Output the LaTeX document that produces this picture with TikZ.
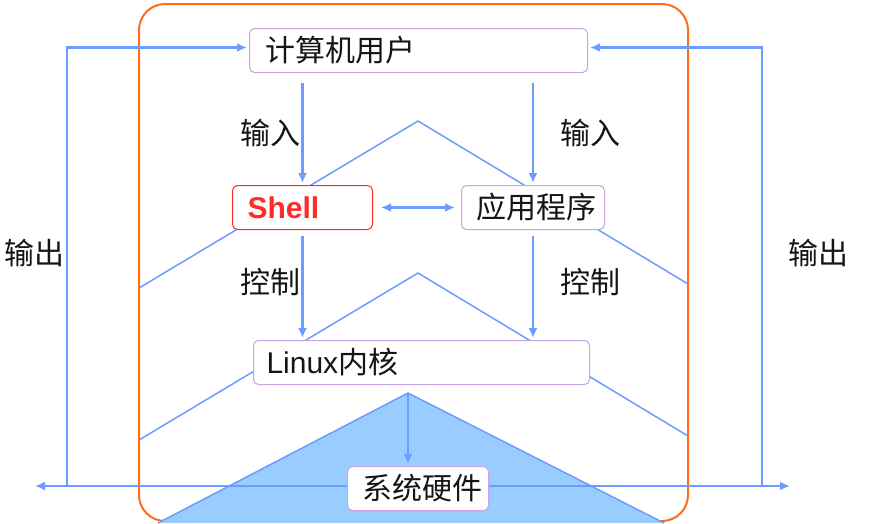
\documentclass[tikz,border=0pt]{standalone}
\usepackage{fontspec}
\setmainfont{Noto Sans CJK SC}
\newfontfamily\latinfont{Liberation Sans}
\usetikzlibrary{arrows.meta,calc}
\definecolor{lblue}{HTML}{6C9CFF}
\definecolor{fblue}{HTML}{99CCFF}
\definecolor{orng}{HTML}{FF6B17}
\definecolor{purp}{HTML}{C6A4E6}
\definecolor{redc}{HTML}{FF2A2A}
\definecolor{txt}{HTML}{151515}
\begin{document}
\begin{tikzpicture}[x=1pt,y=-1pt,
  every node/.style={text=txt},
  box/.style={draw=purp, line width=1pt, rounded corners=5pt, fill=white, anchor=north west,
    minimum height=44pt, inner xsep=15pt, inner ysep=0pt, align=left,
    font=\fontsize{30}{33}\selectfont},
  lbl/.style={font=\fontsize{30}{33}\selectfont},
  arr/.style={draw=lblue, line width=2.2pt, -{Latex[length=10pt,width=9pt]}},
  darr/.style={draw=lblue, line width=2.2pt, {Latex[length=10pt,width=9pt]}-{Latex[length=10pt,width=9pt]}},
  chev/.style={draw=lblue, line width=1.5pt},
]
\useasboundingbox (0,0) rectangle (874,523);
% outer frame
\draw[orng, line width=2pt, rounded corners=26pt] (139,4) rectangle (688,521);
% chevrons
\draw[chev] (139,288) -- (418,121) -- (688,284);
\draw[chev] (139,440) -- (418,273) -- (688,436);
% hardware triangle
\coordinate (apex) at (408,393);
\fill[fblue] (158,523) -- (apex) -- (664,523) -- cycle;
\draw[chev] (158,523) -- (apex) -- (664,523);
% horizontal output line
\coordinate (hl) at (35,486);
\coordinate (hr) at (790,486);
\coordinate (ol) at (67,486);
\coordinate (or) at (762,486);
\draw[darr] (hl) -- (hr);
% boxes
\node[box, minimum width=338pt, text width=306pt, inner xsep=16pt] (user) at (249,28) {计算机用户};
\node[box, draw=redc, minimum width=140pt, text width=110pt, font=\fontsize{30}{33}\selectfont\latinfont\bfseries, text=redc] (shell) at (232,185) {Shell};
\node[box, minimum width=143pt, text width=113pt] (app) at (461,185) {应用程序};
\node[box, minimum width=336pt, text width=310pt, inner xsep=13pt] (linux) at (253,340) {{\latinfont Linux}内核};
\node[box, minimum width=141pt, text width=111pt] (hw) at (347,466) {系统硬件};
% labels
\node[lbl] (in1) at (270,133) {输入};
\node[lbl] (in2) at (590,133) {输入};
\node[lbl] (ct1) at (270,282) {控制};
\node[lbl] (ct2) at (590,282) {控制};
\node[lbl] (out1) at (35,253) {输出};
\node[lbl] (out2) at (818,253) {输出};
% arrows
\draw[arr] ($(user.south -| shell.north)+(0pt,-10pt)$) -- ($(shell.north)+(0pt,2pt)$);
\draw[arr] ($(user.south -| app.north)+(0pt,-10pt)$) -- ($(app.north)+(0pt,2pt)$);
\draw[darr, shorten <=8pt, shorten >=6pt] (shell.east) -- (app.west);
\draw[arr] ($(shell.south)+(0pt,-6pt)$) -- ($(shell.south |- linux.north)+(0pt,2pt)$);
\draw[arr] ($(app.south)+(0pt,-6pt)$) -- ($(app.south |- linux.north)+(0pt,2pt)$);
\draw[arr] (apex) -- ($(apex |- hw.north)+(0pt,2pt)$);
\draw[arr] (ol) |- ($(user.west)+(-2pt,3pt)$);
\draw[arr] (or) |- ($(user.east)+(2pt,3pt)$);
\end{tikzpicture}
\end{document}
